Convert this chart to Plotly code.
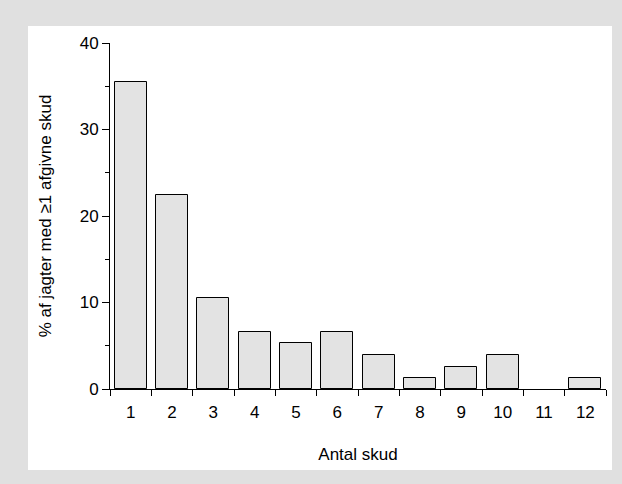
import plotly.graph_objects as go

# Number of shots fired per hunt, share of hunts (%)
antal_skud = list(range(1, 13))
andel_pct = [35.5, 22.4, 10.5, 6.6, 5.3, 6.6, 3.9, 1.3, 2.6, 3.9, 0.0, 1.3]
x_labels = [str(v) for v in antal_skud]
y_ticks = [0, 10, 20, 30, 40]

FONT = "Liberation Sans, Arial, Helvetica, sans-serif"
FS = 17

fig = go.Figure()
fig.add_trace(go.Bar(
    x=antal_skud,
    y=andel_pct,
    width=0.78,
    marker=dict(
        color="#e3e3e3",
        # empty categories get no outline
        line=dict(color="black", width=[1 if v > 0 else 0 for v in andel_pct]),
    ),
    hoverinfo="x+y",
))

fig.update_layout(
    width=622, height=484,
    margin=dict(l=110, r=16, t=43, b=95),
    paper_bgcolor="#e0e0e0",
    plot_bgcolor="white",
    font=dict(family=FONT, size=FS, color="black"),
    showlegend=False,
    bargap=0,
    shapes=[dict(
        type="rect", xref="paper", yref="paper",
        x0=-0.1653, x1=1.0121, y0=-0.234, y1=1.049,
        fillcolor="white", line=dict(width=0), layer="below",
    )],
)

fig.update_xaxes(
    range=[0.5, 12.5],
    tickvals=antal_skud,
    ticktext=x_labels,
    ticks="",
    ticklabelstandoff=8,
    showgrid=False,
    zeroline=False,
    showline=True, linecolor="black", linewidth=1,
    tickfont=dict(size=FS),
    minor=dict(
        tickvals=[v + 0.5 for v in range(0, 13)],
        ticks="outside", ticklen=6, tickcolor="black", tickwidth=1,
        showgrid=False,
    ),
    title=dict(text="Antal skud", standoff=26, font=dict(size=FS)),
)

fig.update_yaxes(
    range=[0, 40],
    tickvals=y_ticks,
    ticks="outside", ticklen=7, tickcolor="black", tickwidth=1,
    showgrid=False,
    zeroline=False,
    showline=True, linecolor="black", linewidth=1,
    tickfont=dict(size=FS),
    minor=dict(
        tickvals=[5, 15, 25, 35],
        ticks="outside", ticklen=4, tickcolor="black", tickwidth=1,
        showgrid=False,
    ),
    title=dict(text="% af jagter med ≥1 afgivne skud", standoff=23,
               font=dict(size=FS)),
)

fig.write_html("out.html")
